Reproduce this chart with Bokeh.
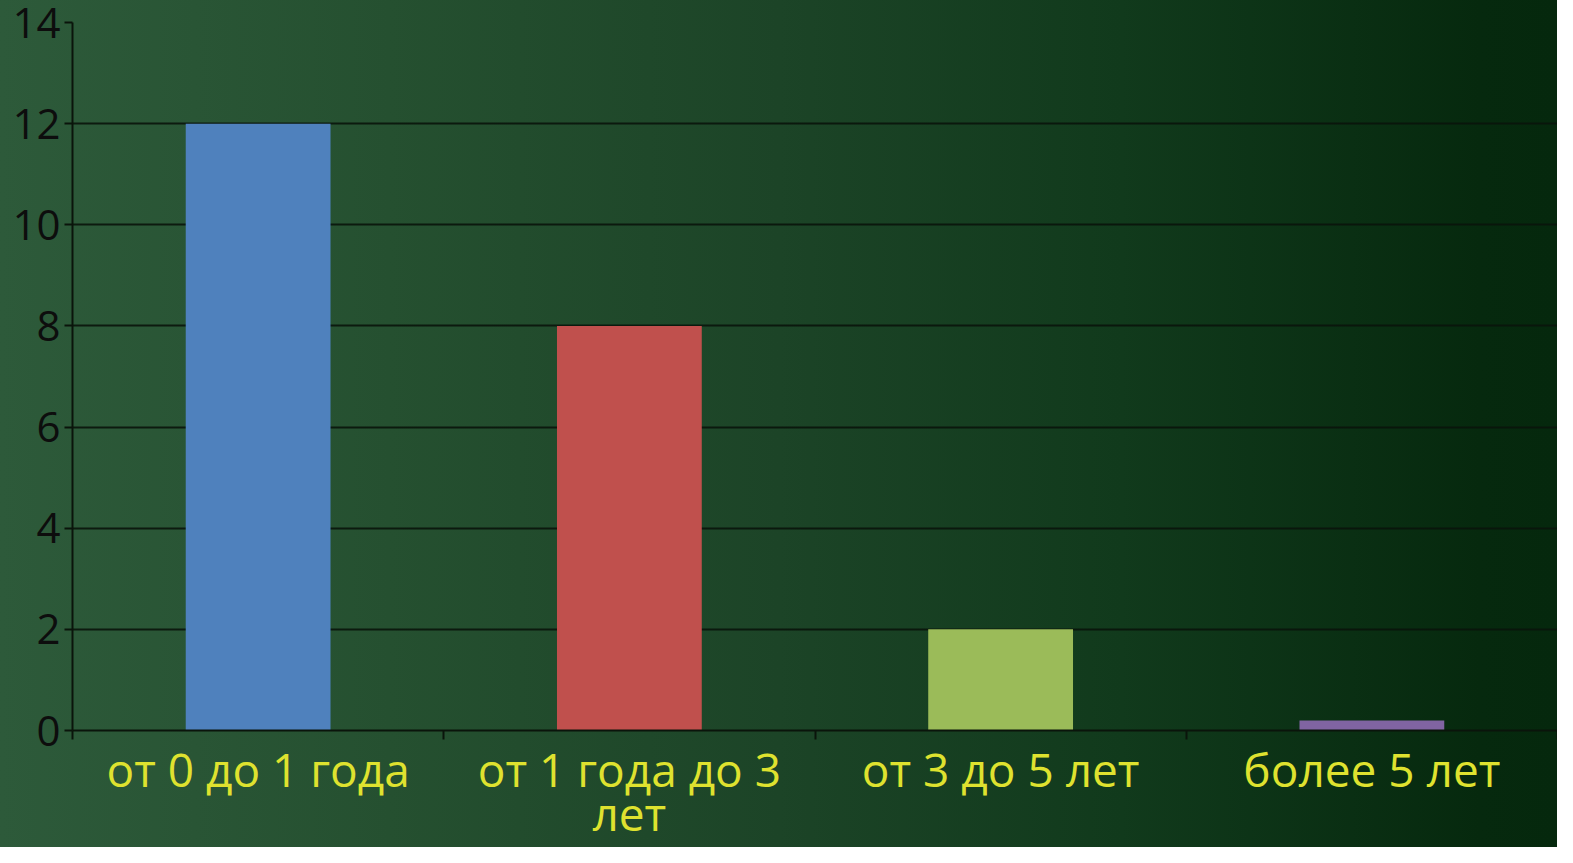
from bokeh.plotting import figure
from bokeh.models import ColumnDataSource, Range1d, LinearAxis, FixedTicker
from bokeh.embed import file_html
from bokeh.resources import INLINE

categories = ["от 0 до 1 года", "от 1 года до 3 лет", "от 3 до 5 лет", "более 5 лет"]
display_labels = ["от 0 до 1 года", "от 1 года до 3\nлет", "от 3 до 5 лет", "более 5 лет"]
values = [12, 8, 2, 0.2]
colors = ["#4f81bd", "#c0504d", "#9bbb59", "#8064a2"]
y_ticks = [0, 2, 4, 6, 8, 10, 12, 14]

n = len(categories)
centers = [i + 0.5 for i in range(n)]
bounds = list(range(n + 1))

src = ColumnDataSource(dict(x=centers, cat=categories, val=values, color=colors))

p = figure(x_range=Range1d(0, n), y_range=Range1d(0, 14),
           width=1557, height=847, output_backend="svg", toolbar_location=None,
           min_border_left=72, min_border_top=22, min_border_right=0, min_border_bottom=112)

p.background_fill_color = None
p.border_fill_color = None
p.outline_line_color = None
p.styles = {"background": "linear-gradient(90deg, #2d5a3a 0%, #255030 25%, #1c4427 50%, #113a1c 72%, #06290e 95%, #05280d 100%)"}

p.vbar(x="x", top="val", width=0.39, color="color", line_color=None, source=src)

tick_axis = p.xaxis[0]
tick_axis.ticker = FixedTicker(ticks=bounds)
tick_axis.axis_line_color = "#0a140b"
tick_axis.axis_line_width = 2
tick_axis.major_tick_line_color = "#0a140b"
tick_axis.major_tick_line_width = 2
tick_axis.major_tick_out = 9
tick_axis.major_tick_in = 0
tick_axis.minor_tick_line_color = None
tick_axis.major_label_text_font_size = "0px"
tick_axis.major_label_standoff = 0

cat_axis = LinearAxis(ticker=FixedTicker(ticks=centers))
cat_axis.major_label_overrides = {c: lab for c, lab in zip(centers, display_labels)}
cat_axis.axis_line_color = None
cat_axis.major_tick_line_color = None
cat_axis.minor_tick_line_color = None
cat_axis.major_label_text_font = "Open Sans"
cat_axis.major_label_text_font_size = "46px"
cat_axis.major_label_text_color = "#dfe22f"
cat_axis.major_label_text_line_height = 0.72
cat_axis.major_label_standoff = -8
p.add_layout(cat_axis, "below")

yax = p.yaxis[0]
yax.ticker = FixedTicker(ticks=y_ticks)
yax.axis_line_color = "#0a140b"
yax.axis_line_width = 2
yax.major_tick_line_color = "#0a140b"
yax.major_tick_line_width = 2
yax.major_tick_out = 8
yax.major_tick_in = 0
yax.minor_tick_line_color = None
yax.major_label_text_font = "Open Sans"
yax.major_label_text_font_size = "42px"
yax.major_label_text_color = "#0d0d0d"
yax.major_label_standoff = 4

p.xgrid.visible = False
p.ygrid.grid_line_color = "#0a140b"
p.ygrid.grid_line_width = 2
p.ygrid.grid_line_alpha = 0.9

open("out.html", "w").write(file_html(p, INLINE))
